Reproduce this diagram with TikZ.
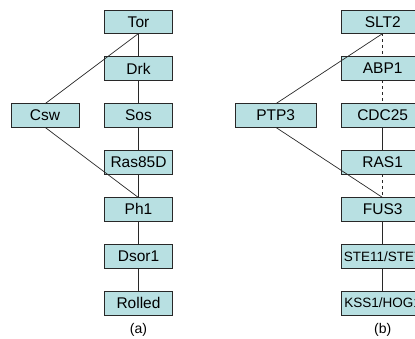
\documentclass[tikz,border=0pt]{standalone}
\usepackage{fontspec}
\setmainfont{Liberation Sans}
\usetikzlibrary{positioning}
\newcommand{\boxWidth}{68pt}
\newcommand{\boxWidthB}{82pt}
\newcommand{\boxHeight}{23.5pt}
\newcommand{\rowGap}{23.4pt}
\newcommand{\sideGap}{25.5pt}
\newcommand{\fontSize}{15.5}
\newcommand{\smallSize}{13.5}
\definecolor{lineColor}{RGB}{40,40,40}
\definecolor{boxFill}{RGB}{184,224,226}
\tikzstyle{gene}=[draw=lineColor, fill=boxFill, minimum width=\boxWidth, minimum height=\boxHeight, inner sep=0, outer sep=0, line width=0.8pt, font=\fontsize{\fontSize}{\fontSize}\selectfont]
\tikzstyle{geneB}=[gene, minimum width=\boxWidthB]
\tikzstyle{link}=[draw=lineColor, line width=0.7pt]
\tikzstyle{weak}=[link, dashed]
\tikzstyle{caption}=[inner sep=0, font=\fontsize{14}{14}\selectfont]

\begin{document}
\begin{tikzpicture}[x=1pt, y=-1pt, node distance=\rowGap]

% Frame
\useasboundingbox (0,0) rectangle (415,339);
\clip (0,0) rectangle (415,339);

% (a) Drosophila chain
\node[gene] (tor) at (138.5,21.75) {Tor};
\node[gene, below=of tor] (drk) {Drk};
\node[gene, below=of drk] (sos) {Sos};
\node[gene, below=of sos] (ras) {Ras85D};
\node[gene, below=of ras] (ph) {Ph1};
\node[gene, below=of ph] (dsor) {Dsor1};
\node[gene, below=of dsor] (rolled) {Rolled};
\node[gene, left=\sideGap of sos] (csw) {Csw};
\node[caption] (capA) at (138.5,330) {(a)};

\draw[link] (tor) -- (drk);
\draw[link] (drk) -- (sos);
\draw[link] (sos) -- (ras);
\draw[link] (ras) -- (ph);
\draw[link] (ph) -- (dsor);
\draw[link] (dsor) -- (rolled);
\draw[link] (tor.south) -- (csw.north);
\draw[link] (csw.south) -- (ph.north);

% (b) yeast chain
\node[geneB] (slt) at (382.7,21.75) {SLT2};
\node[geneB, below=of slt] (abp) {ABP1};
\node[geneB, below=of abp] (cdc) {CDC25};
\node[geneB, below=of cdc] (rasb) {RAS1};
\node[geneB, below=of rasb] (fus) {FUS3};
\node[geneB, below=of fus, font=\fontsize{\smallSize}{\smallSize}\selectfont] (ste) {STE11/STE7};
\node[geneB, below=of ste, font=\fontsize{\smallSize}{\smallSize}\selectfont] (kss) {KSS1/HOG1};
\node[geneB, minimum width=81pt, left=\sideGap of cdc] (ptp) {PTP3};
\node[caption] (capB) at (382.7,330) {(b)};

\draw[weak] (slt) -- (abp);
\draw[weak] (abp) -- (cdc);
\draw[link] (cdc) -- (rasb);
\draw[weak] (rasb) -- (fus);
\draw[link] (fus) -- (ste);
\draw[link] (ste) -- (kss);
\draw[link] (slt.south) -- (ptp.north);
\draw[link] (ptp.south) -- (fus.north);

\end{tikzpicture}
\end{document}
